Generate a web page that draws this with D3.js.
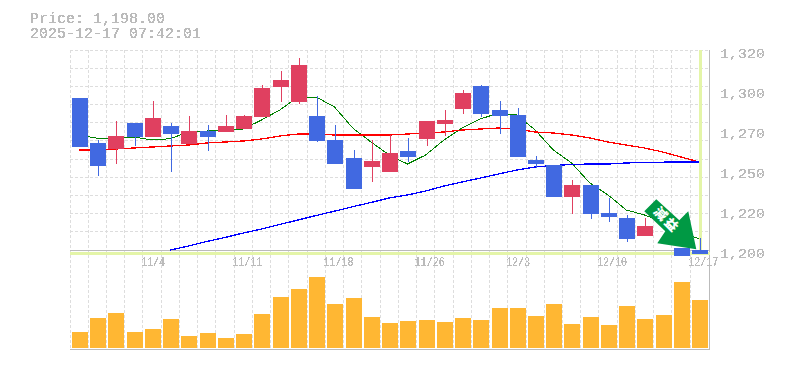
<!DOCTYPE html>
<html>
<head>
<meta charset="utf-8">
<script src="https://cdn.jsdelivr.net/npm/d3@7"></script>
<style>
    html, body { margin: 0; padding: 0; background: #fff; }
    svg { display: block; }
    text { font-family: "Liberation Mono", monospace; fill: #bbb; }
</style>
</head>
<body>
<div id="chart"></div>
<script>
const dates = ["10/28","10/29","10/30","10/31","11/4","11/5","11/6","11/7","11/10","11/11","11/12","11/13","11/14","11/17","11/18",
    "11/19","11/20","11/21","11/25","11/26","11/27","11/28","12/1","12/2","12/3","12/4","12/5","12/8","12/9","12/10","12/11","12/12","12/15","12/16","12/17"];
const dateTicks = ["11/4","11/11","11/18","11/26","12/3","12/10","12/17"];

const opens = [1291.2,1264.2,1260.6,1276.2,1267.8,1274.4,1263.6,1271.4,1270.8,1272.6,1279.8,1297.8,1288.8,1280.4,1266,1255.2,1249.8,1246.8,1259.4,1266.6,1275.6,1284.6,1298.4,1284,1281,1254,1251,1231.8,1239,1222.2,1219.2,1208.4,1218,1201.2,1200];
const highs = [1291.2,1266,1277.4,1276.2,1289.4,1276.2,1280.4,1275,1281,1281,1299,1307.4,1315.2,1292.4,1275,1260,1266,1269,1267.2,1277.4,1284,1296,1299,1289.4,1285.2,1256.4,1251,1242,1239,1231.2,1221,1219.2,1224,1201.2,1207.2];
const lows = [1261.8,1244.4,1251.6,1262.4,1267.8,1246.8,1263.6,1259.4,1270.8,1272.6,1279.8,1288.8,1287.6,1264.8,1251.6,1236.6,1240.8,1246.8,1252.8,1262.4,1268.4,1281.6,1279.8,1269.6,1255.8,1249.2,1231.8,1221.6,1218.6,1216.8,1204.8,1208.4,1216.8,1196.4,1197.6];
const closes = [1261.8,1250.4,1268.4,1267.8,1279.2,1269.6,1271.4,1267.8,1274.4,1280.4,1297.2,1302,1311,1265.4,1251.6,1236.6,1253.4,1258.2,1255.8,1277.4,1278,1294.2,1281.6,1280.4,1255.8,1251.6,1231.8,1239,1221.6,1219.8,1206.6,1214.4,1221.6,1196.4,1197.6];
const volumes = [16,30,35,16,19,29,12,15,10,14,34,51,59,71,44,50,31,25,27,28,26,30,28,40,40,32,44,24,31,23,42,29,33,66,48];

const maShort = [1269,1267,1267.2,1267.8,1266,1266.8,1270.8,1271.4,1272,1272.6,1278,1284,1291.8,1291.8,1285.8,1273.2,1264.8,1257,1251.6,1257,1266,1273.2,1278.6,1282.2,1281,1272,1260,1252.2,1240.2,1233,1224,1221,1216.8,1210.8,1206.6];
const maMid = [1260,1260,1260.6,1261.2,1261.8,1262.4,1263,1264.2,1264.8,1265.4,1266.6,1268.4,1269.6,1269.6,1269,1269,1269,1269,1269.6,1270.2,1270.8,1272,1272.6,1273.2,1272.6,1270.8,1270.2,1269,1267.2,1264.8,1263,1261.2,1258.8,1255.8,1252.8];
const maLong = [null,null,null,null,null,1200,1202.4,1205.1,1207.5,1210.2,1212.6,1215.3,1218,1220.7,1223.3,1226,1228.5,1231.2,1233,1235.4,1238.4,1240.8,1243.2,1245.6,1248,1249.8,1250.7,1251.3,1251.6,1251.6,1252.2,1252.6,1252.7,1252.8,1252.8];

const priceTicks = [1320,1296,1272,1248,1224,1200];
const priceLabels = ["1,320","1,300","1,270","1,250","1,220","1,200"];
const priceGrid = d3.range(12).map(i => 1320 - i * 120 / 11);
const lastPrice = 1198;
const stamp = ["Price: 1,198.00", "2025-12-17 07:42:01"];

const svg = d3.select("#chart").append("svg")
    .attr("width", 785)
    .attr("height", 370)
    .attr("viewBox", [0, 0, 785, 370]);

// the reference text has no anti-aliasing, so threshold the alpha
const aliased = svg.append("filter")
    .attr("id", "aliased")
    .attr("color-interpolation-filters", "sRGB");
aliased.append("feComponentTransfer")
    .append("feFuncA")
        .attr("type", "discrete")
        .attr("tableValues", "0 1 1");

const x = d3.scaleBand().domain(dates).range([70, 708.4]);
const y = d3.scaleLinear().domain([1200, 1320]).range([250, 50]);
const yVol = d3.scaleLinear().domain([0, 71]).range([348, 277]);
const mid = d => x(d) + x.bandwidth() / 2;

// dashed grid, it runs down through the volume panel
const grid = svg.append("g")
    .attr("stroke", "#ddd")
    .attr("stroke-dasharray", "3,2")
    .attr("shape-rendering", "crispEdges");
grid.selectAll("line.h")
    .data(priceGrid)
    .join("line")
        .attr("class", "h")
        .attr("x1", 70)
        .attr("x2", 710)
        .attr("y1", d => Math.floor(y(d)) + 0.5)
        .attr("y2", d => Math.floor(y(d)) + 0.5);
grid.selectAll("line.v")
    .data(dates)
    .join("line")
        .attr("class", "v")
        .attr("x1", d => Math.floor(x(d)) + 0.5)
        .attr("x2", d => Math.floor(x(d)) + 0.5)
        .attr("y1", 50)
        .attr("y2", 350);

// frame
const frame = svg.append("g")
    .attr("stroke", "#bbb")
    .attr("shape-rendering", "crispEdges");
frame.append("line").attr("x1", 70).attr("x2", 710).attr("y1", 250.5).attr("y2", 250.5);
frame.append("line").attr("x1", 70).attr("x2", 710).attr("y1", 349.5).attr("y2", 349.5);
frame.append("line").attr("x1", 709.5).attr("x2", 709.5).attr("y1", 50).attr("y2", 350);

// highlight for the latest bar and price
const mark = svg.append("g")
    .attr("stroke", "#e4f5a8")
    .attr("stroke-width", 3)
    .attr("shape-rendering", "crispEdges");
mark.append("line")
    .attr("x1", 70).attr("x2", 710)
    .attr("y1", y(lastPrice)).attr("y2", y(lastPrice));
mark.append("line")
    .attr("x1", mid(dates[34]) + 1).attr("x2", mid(dates[34]) + 1)
    .attr("y1", 50).attr("y2", y(lastPrice));

// moving averages
const drawLine = (values, color, width) => {
    const line = d3.line()
        .defined(d => d !== null)
        .x((d, i) => mid(dates[i]))
        .y(d => y(d));
    svg.append("path")
        .attr("fill", "none")
        .attr("stroke", color)
        .attr("stroke-width", width)
        .attr("shape-rendering", "crispEdges")
        .attr("d", line(values));
};
drawLine(maShort, "#008000", 1);
drawLine(maMid, "#ff0000", 1.3);
drawLine(maLong, "#0000ff", 1.3);

// candles
const isUp = i => closes[i] >= opens[i];
const candleColor = i => isUp(i) ? "#e04060" : "#4169e1";
const candles = svg.append("g")
    .attr("shape-rendering", "crispEdges")
    .selectAll("g")
    .data(dates)
    .join("g");
candles.append("line")
    .attr("x1", d => Math.round(x(d) + 2) + 8.5)
    .attr("x2", d => Math.round(x(d) + 2) + 8.5)
    .attr("y1", (d, i) => y(highs[i]))
    .attr("y2", (d, i) => y(lows[i]))
    .attr("stroke", (d, i) => candleColor(i));
candles.append("rect")
    .attr("x", d => Math.round(x(d) + 2))
    .attr("width", 16)
    .attr("y", (d, i) => y(Math.max(opens[i], closes[i])))
    .attr("height", (d, i) => Math.abs(y(opens[i]) - y(closes[i])))
    .attr("fill", (d, i) => candleColor(i));

// volume
svg.append("g")
    .attr("shape-rendering", "crispEdges")
    .selectAll("rect")
    .data(dates)
    .join("rect")
        .attr("x", d => Math.round(x(d) + 2))
        .attr("width", 16)
        .attr("y", (d, i) => yVol(volumes[i]))
        .attr("height", (d, i) => yVol(0) - yVol(volumes[i]))
        .attr("fill", "#ffb733");

// signal arrow over the last bars
const tipX = mid(dates[34]) - 3;
const tipY = y(lastPrice) - 4;
const arrow = svg.append("g").attr("transform", `translate(${tipX},${tipY})`);
arrow.append("polygon")
    .attr("points", [[-40,-50],[-52,-38],[-31,-18],[-39,-6],[0,0],[-8,-38],[-17,-29]].join(" "))
    .attr("fill", "#009944");
arrow.append("text")
    .attr("transform", "translate(-30,-29) rotate(45)")
    .attr("text-anchor", "middle")
    .attr("dy", 4)
    .attr("letter-spacing", 2)
    .style("font-family", "'Noto Sans CJK JP'")
    .style("font-size", "13px")
    .style("font-weight", "900")
    .style("fill", "#fff")
    .text("減益");

// axes
const yAxis = svg.append("g")
    .attr("transform", "translate(720,0)")
    .attr("filter", "url(#aliased)")
    .call(d3.axisRight(y).tickValues(priceTicks).tickSize(0).tickPadding(0)
        .tickFormat((d, i) => priceLabels[i]));
yAxis.select(".domain").remove();
yAxis.selectAll("text")
    .attr("dy", 7)
    .attr("textLength", 45)
    .attr("lengthAdjust", "spacingAndGlyphs")
    .style("font-size", "13px");

const xAxis = svg.append("g")
    .attr("transform", "translate(0,266)")
    .attr("filter", "url(#aliased)")
    .call(d3.axisBottom(x).tickValues(dateTicks).tickSize(0));
xAxis.select(".domain").remove();
xAxis.selectAll("text")
    .attr("text-anchor", "start")
    .attr("x", -11)
    .attr("y", 0)
    .attr("dy", 0)
    .attr("textLength", d => d.length * 6)
    .attr("lengthAdjust", "spacingAndGlyphs")
    .style("font-size", "12px");

svg.append("g")
    .attr("filter", "url(#aliased)")
    .selectAll("text")
    .data(stamp)
    .join("text")
        .attr("x", 30)
        .attr("y", (d, i) => 23 + i * 15)
        .style("font-size", "15px")
        .text(d => d);
</script>
</body>
</html>
